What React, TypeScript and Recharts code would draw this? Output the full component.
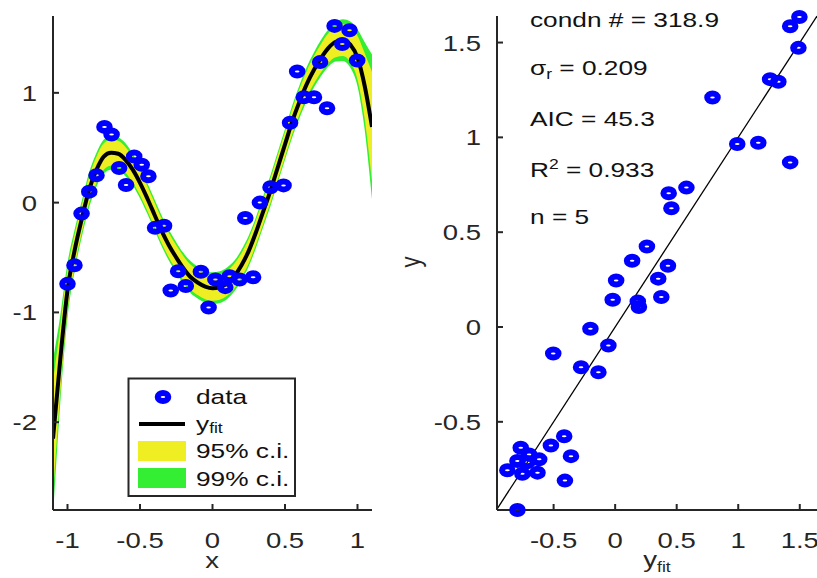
import React from "react";
import {
    ComposedChart,
    Area,
    Line,
    Scatter,
    XAxis,
    YAxis,
    ReferenceLine,
} from "recharts";

const FONT = '"Liberation Sans", Arial, Helvetica, sans-serif';
const AXIS = "#262626";
const SX = 1.25; // the reference is stretched sideways

// fitted polynomial, read every 0.05 along x
const gridX = [
    -1.1, -1.05, -1.0, -0.95, -0.9, -0.85, -0.8, -0.75, -0.7, -0.65, -0.6,
    -0.55, -0.5, -0.45, -0.4, -0.35, -0.3, -0.25, -0.2, -0.15, -0.1, -0.05, 0,
    0.05, 0.1, 0.15, 0.2, 0.25, 0.3, 0.35, 0.4, 0.45, 0.5, 0.55, 0.6, 0.65,
    0.7, 0.75, 0.8, 0.85, 0.9, 0.95, 1.0, 1.05, 1.1,
];
const fitY = [
    -2.15, -1.43, -0.8, -0.43, -0.14, 0.12, 0.3, 0.42, 0.455, 0.445, 0.39,
    0.3, 0.18, 0.04, -0.11, -0.26, -0.39, -0.5, -0.6, -0.68, -0.73, -0.765,
    -0.78, -0.77, -0.735, -0.67, -0.57, -0.44, -0.27, -0.08, 0.11, 0.32, 0.53,
    0.74, 0.92, 1.08, 1.21, 1.32, 1.41, 1.465, 1.48, 1.44, 1.32, 1.06, 0.69,
];
const half95 = [
    0.52, 0.3, 0.19, 0.145, 0.125, 0.12, 0.12, 0.12, 0.12, 0.118, 0.117,
    0.115, 0.113, 0.112, 0.112, 0.112, 0.112, 0.112, 0.112, 0.113, 0.114,
    0.115, 0.115, 0.115, 0.114, 0.113, 0.112, 0.112, 0.112, 0.112, 0.112,
    0.112, 0.113, 0.115, 0.118, 0.12, 0.125, 0.13, 0.135, 0.14, 0.145, 0.16,
    0.2, 0.3, 0.5,
];
const half99 = [
    0.72, 0.4, 0.25, 0.19, 0.165, 0.16, 0.155, 0.155, 0.155, 0.15, 0.15,
    0.145, 0.14, 0.14, 0.14, 0.14, 0.14, 0.14, 0.14, 0.145, 0.145, 0.145,
    0.145, 0.145, 0.145, 0.14, 0.14, 0.14, 0.14, 0.14, 0.14, 0.14, 0.14,
    0.145, 0.15, 0.155, 0.16, 0.165, 0.17, 0.18, 0.19, 0.21, 0.26, 0.4, 0.66,
];

// observations
const dataX = [
    -1.0, -0.952, -0.903, -0.85, -0.8, -0.745, -0.696, -0.644, -0.596, -0.54,
    -0.488, -0.442, -0.396, -0.334, -0.288, -0.237, -0.184, -0.08, -0.027,
    0.02, 0.088, 0.118, 0.187, 0.28, 0.226, 0.327, 0.4, 0.49, 0.535, 0.584,
    0.63, 0.7, 0.742, 0.79, 0.842, 0.895, 0.945, 0.998,
];
const dataY = [
    -0.74, -0.57, -0.1, 0.1, 0.25, 0.69, 0.62, 0.315, 0.16, 0.42, 0.345, 0.24,
    -0.23, -0.21, -0.8, -0.625, -0.76, -0.63, -0.955, -0.7, -0.77, -0.67,
    -0.7, -0.68, -0.14, 0.0, 0.14, 0.157, 0.727, 1.195, 0.96, 0.96, 1.28,
    0.86, 1.61, 1.445, 1.57, 1.295,
];

// right panel: fitted vs observed
const fitVals = [
    -0.767, -0.699, -0.617, -0.794, -0.876, -0.754, -0.631, -0.713, -0.522,
    -0.414, -0.359, -0.408, -0.794, 0.008, -0.02, 0.184, 0.193, 0.375, 0.35,
    -0.201, -0.055, -0.503, -0.277, -0.136, 0.138, 0.258, 0.429, 0.457, 0.435,
    0.579, 0.791, 0.992, 1.163, 1.422, 1.259, 1.326, 1.489, 1.422, 1.497,
];
const obsVals = [
    -0.637, -0.672, -0.698, -0.707, -0.755, -0.774, -0.768, -0.713, -0.625,
    -0.576, -0.681, -0.81, -0.965, 0.245, 0.144, 0.135, 0.105, 0.158, 0.255,
    -0.009, -0.098, -0.14, -0.212, -0.239, 0.349, 0.424, 0.323, 0.626, 0.705,
    0.735, 1.21, 0.965, 0.972, 0.868, 1.307, 1.293, 1.472, 1.586, 1.635,
];

const leftXTicks = [-1, -0.5, 0, 0.5, 1];
const leftYTicks = [-2, -1, 0, 1];
const rightTicks = [-0.5, 0, 0.5, 1, 1.5];
const diagLimits = [-0.96, 1.64];

const condnText = "318.9";
const sigmaText = "0.209";
const aicText = "45.3";
const r2Text = "0.933";
const nText = "5";

const curve = gridX.map((x, i) => ({
    x,
    fit: fitY[i],
    band95: [fitY[i] - half95[i], fitY[i] + half95[i]],
    band99: [fitY[i] - half99[i], fitY[i] + half99[i]],
}));
const points = dataX.map((x, i) => ({ x, y: dataY[i] }));
const pairs = fitVals.map((f, i) => ({ fit: f, obs: obsVals[i] }));

function WideText({ x, y, anchor = "start", size = 21, fill = AXIS, children }: any) {
    return (
        <g transform={`translate(${x},${y}) scale(${SX},1)`}>
            <text x={0} y={0} textAnchor={anchor} fontFamily={FONT} fontSize={size} fill={fill}>
                {children}
            </text>
        </g>
    );
}

const YTick = (props: any) => (
    <WideText x={props.x - 22} y={props.y + 8} anchor='end' size={22}>
        {String(props.payload.value)}
    </WideText>
);
const XTick = (props: any) => (
    <WideText x={props.x} y={props.y + 43.5} anchor='middle' size={22}>
        {String(props.payload.value)}
    </WideText>
);

// thick blue ring, small hole in the middle
const Ring = (p: any) => (
    <ellipse cx={p.cx} cy={p.cy} rx={5.3} ry={4.0} fill='none' stroke='#0000ff' strokeWidth={6} />
);

const axisLine = { stroke: AXIS, strokeWidth: 2 };

function FitPanel() {
    return (
        <ComposedChart
            width={400}
            height={578}
            data={curve}
            margin={{ top: 16, right: 28, bottom: 38, left: 0 }}
        >
            <XAxis
                type='number'
                dataKey='x'
                domain={[-1.1, 1.1]}
                ticks={leftXTicks}
                allowDataOverflow
                height={30}
                axisLine={axisLine}
                tickLine={axisLine}
                tickSize={-6}
                tickMargin={0}
                tick={<XTick />}
            />
            <YAxis
                type='number'
                domain={[-2.8, 1.7]}
                ticks={leftYTicks}
                allowDataOverflow
                width={53}
                axisLine={axisLine}
                tickLine={axisLine}
                tickSize={-6}
                tickMargin={0}
                tick={<YTick />}
            />
            <Area dataKey='band99' type='monotone' stroke='none' fill='#33ee33' fillOpacity={1} isAnimationActive={false} />
            <Area dataKey='band95' type='monotone' stroke='none' fill='#eeee22' fillOpacity={1} isAnimationActive={false} />
            <Line dataKey='fit' type='monotone' stroke='#000' strokeWidth={4} dot={false} isAnimationActive={false} />
            <Scatter data={points} dataKey='y' shape={<Ring />} isAnimationActive={false} />
        </ComposedChart>
    );
}

function ResidualPanel() {
    return (
        <ComposedChart
            width={407}
            height={578}
            margin={{ top: 16, right: 0, bottom: 38, left: 0 }}
        >
            <XAxis
                type='number'
                dataKey='fit'
                domain={diagLimits}
                ticks={rightTicks}
                height={30}
                axisLine={axisLine}
                tickLine={axisLine}
                tickSize={-6}
                tickMargin={0}
                tick={<XTick />}
            />
            <YAxis
                type='number'
                dataKey='obs'
                domain={diagLimits}
                ticks={rightTicks}
                width={87}
                axisLine={axisLine}
                tickLine={axisLine}
                tickSize={-6}
                tickMargin={0}
                tick={<YTick />}
            />
            <ReferenceLine
                segment={[
                    { x: diagLimits[0], y: diagLimits[0] },
                    { x: diagLimits[1], y: diagLimits[1] },
                ]}
                stroke='#000'
                strokeWidth={1.3}
            />
            <Scatter data={pairs} dataKey='obs' shape={<Ring />} isAnimationActive={false} />
        </ComposedChart>
    );
}

function Overlay() {
    return (
        <svg
            width={817}
            height={578}
            style={{ position: "absolute", left: 0, top: 0, pointerEvents: "none" }}
        >
            {/* axis labels */}
            <WideText x={212} y={568} anchor='middle' size={22}>x</WideText>
            <WideText x={657} y={567} anchor='middle' size={22}>
                y<tspan fontSize={14} dy={5}>fit</tspan>
            </WideText>
            <g transform='translate(420,262) rotate(-90) scale(1,1.25)'>
                <text textAnchor='middle' fontFamily={FONT} fontSize={22} fill={AXIS}>y</text>
            </g>

            {/* fit statistics */}
            <WideText x={530} y={27} fill='#111'>condn # = {condnText}</WideText>
            <WideText x={530} y={75} fill='#111'>
                σ<tspan fontSize={14} dy={4}>r</tspan>
                <tspan dy={-4}> = {sigmaText}</tspan>
            </WideText>
            <WideText x={530} y={126} fill='#111'>AIC = {aicText}</WideText>
            <WideText x={530} y={177} fill='#111'>
                R<tspan fontSize={14} dy={-8}>2</tspan>
                <tspan dy={8}> = {r2Text}</tspan>
            </WideText>
            <WideText x={530} y={224} fill='#111'>n = {nText}</WideText>

            {/* legend */}
            <rect x={128.5} y={378.5} width={166.5} height={117.5} fill='#fff' stroke={AXIS} strokeWidth={2} />
            <ellipse cx={163} cy={397} rx={5.3} ry={4.0} fill='none' stroke='#0000ff' strokeWidth={6} />
            <WideText x={196} y={404} fill='#111'>data</WideText>
            <line x1={139} y1={424} x2={185} y2={424} stroke='#000' strokeWidth={4} />
            <WideText x={196} y={431} fill='#111'>
                y<tspan fontSize={14} dy={2}>fit</tspan>
            </WideText>
            <rect x={138} y={441} width={48} height={20} fill='#eeee22' />
            <WideText x={196} y={458} fill='#111'>95% c.i.</WideText>
            <rect x={138} y={468} width={48} height={20} fill='#33ee33' />
            <WideText x={196} y={486} fill='#111'>99% c.i.</WideText>
        </svg>
    );
}

export default function App() {
    return (
        <div
            style={{
                position: "absolute",
                left: 0,
                top: 0,
                width: 817,
                height: 578,
                background: "#fff",
                overflow: "hidden",
            }}
        >
            <div style={{ position: "absolute", left: 0, top: 0 }}>
                <FitPanel />
            </div>
            <div style={{ position: "absolute", left: 410, top: 0 }}>
                <ResidualPanel />
            </div>
            <Overlay />
        </div>
    );
}
